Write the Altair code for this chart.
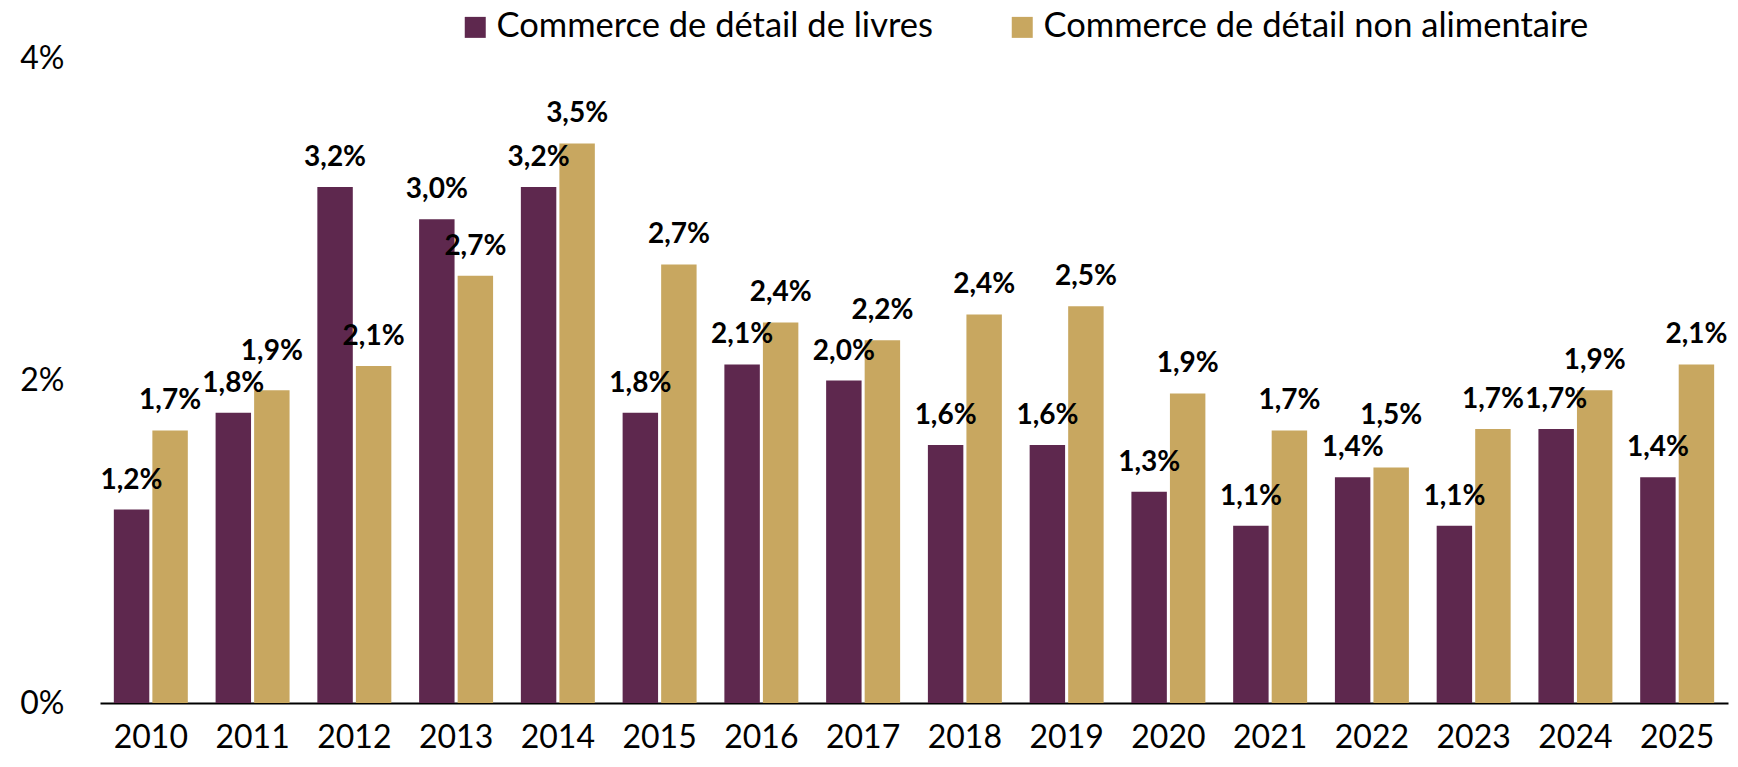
import altair as alt
import pandas as pd

years = ["2010", "2011", "2012", "2013", "2014", "2015", "2016", "2017",
         "2018", "2019", "2020", "2021", "2022", "2023", "2024", "2025"]
series_names = ["Commerce de détail de livres", "Commerce de détail non alimentaire"]
livres = [1.20, 1.80, 3.20, 3.00, 3.20, 1.80, 2.10, 2.00, 1.60, 1.60, 1.31, 1.10, 1.40, 1.10, 1.70, 1.40]
non_alim = [1.69, 1.94, 2.09, 2.65, 3.47, 2.72, 2.36, 2.25, 2.41, 2.46, 1.92, 1.69, 1.46, 1.70, 1.94, 2.10]
livres_labels = ["1,2%", "1,8%", "3,2%", "3,0%", "3,2%", "1,8%", "2,1%", "2,0%",
                 "1,6%", "1,6%", "1,3%", "1,1%", "1,4%", "1,1%", "1,7%", "1,4%"]
non_alim_labels = ["1,7%", "1,9%", "2,1%", "2,7%", "3,5%", "2,7%", "2,4%", "2,2%",
                   "2,4%", "2,5%", "1,9%", "1,7%", "1,5%", "1,7%", "1,9%", "2,1%"]
colors = ["#5E284E", "#C8A760"]

rows = []
for i, y in enumerate(years):
    rows.append({"year": y, "serie": series_names[0], "value": livres[i], "label": livres_labels[i]})
    rows.append({"year": y, "serie": series_names[1], "value": non_alim[i], "label": non_alim_labels[i]})
df = pd.DataFrame(rows)

FONT = "Lato"
W, H = 1628, 645
PX_PER_UNIT = H / 4.0

x_enc = alt.X("year:N", sort=years, title=None,
              scale=alt.Scale(paddingInner=0.273, paddingOuter=0.136),
              axis=alt.Axis(labelAngle=0, labelFont=FONT, labelFontSize=32, labelColor="#000000",
                            labelPadding=19, ticks=False, domainColor="#000000", domainWidth=2))
xoff_enc = alt.XOffset("serie:N", sort=series_names,
                       scale=alt.Scale(paddingInner=0.08, paddingOuter=0))
y_scale = alt.Scale(domain=[0, 4], nice=False)
y_enc = alt.Y("value:Q", title=None, scale=y_scale,
              axis=alt.Axis(values=[0, 2, 4], labelExpr="datum.value + '%'", grid=False,
                            domain=False, ticks=False, labelFont=FONT, labelFontSize=32,
                            labelColor="#000000", labelPadding=36))

bars = alt.Chart(df).mark_bar().encode(
    x=x_enc,
    xOffset=xoff_enc,
    y=y_enc,
    color=alt.Color("serie:N", sort=series_names,
                    scale=alt.Scale(domain=series_names, range=colors),
                    legend=alt.Legend(title=None, orient="none", legendX=358, legendY=-48,
                                      direction="horizontal", symbolType="square", symbolSize=441,
                                      symbolStrokeWidth=0, labelFont=FONT, labelFontSize=34.5,
                                      labelColor="#000000", labelLimit=900, labelOffset=4,
                                      columnPadding=72, padding=0)),
)

# label sits ~29px above its bar; the higher label of a pair is pushed up when the two would collide
text = alt.Chart(df).transform_joinaggregate(
    vmax="max(value)", vmin="min(value)", groupby=["year"]
).transform_calculate(
    sep=f"(datum.vmax - datum.vmin) * {PX_PER_UNIT}",
    off="datum.value == datum.vmax && datum.vmax != datum.vmin && datum.sep < 32 ? 29 + (32 - datum.sep) : 29",
    ly=f"datum.value + datum.off / {PX_PER_UNIT}",
).mark_text(font=FONT, fontSize=28, fontWeight="bold", color="#000000",
            baseline="middle").encode(
    x=alt.X("year:N", sort=years),
    xOffset=alt.XOffset("serie:N", sort=series_names),
    y=alt.Y("ly:Q", scale=y_scale),
    text="label:N",
)

chart = alt.layer(bars, text).properties(
    width=W, height=H,
    autosize=alt.AutoSizeParams(type="none"),
    padding={"left": 92, "top": 50, "right": 2, "bottom": 54},
).configure_view(stroke=None)

chart.save("out.html", embed_options={"renderer": "svg", "actions": False})
